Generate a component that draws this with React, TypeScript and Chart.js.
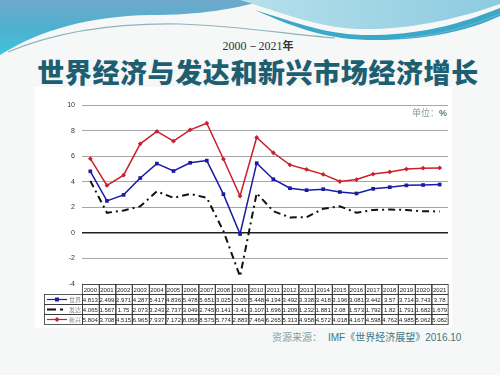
import React, { useEffect, useRef } from "react";
import { Chart, registerables } from "chart.js";

Chart.register(...registerables);

const years = ["2000", "2001", "2002", "2003", "2004", "2005", "2006", "2007", "2008", "2009", "2010", "2011", "2012", "2013", "2014", "2015", "2016", "2017", "2018", "2019", "2020", "2021"];
const world = [4.813, 2.499, 2.971, 4.287, 5.417, 4.836, 5.478, 5.651, 3.025, -0.09, 5.448, 4.194, 3.492, 3.338, 3.418, 3.196, 3.081, 3.442, 3.57, 3.714, 3.743, 3.78];
const advanced = [4.065, 1.567, 1.75, 2.073, 3.243, 2.737, 3.049, 2.745, 0.141, -3.41, 3.107, 1.696, 1.209, 1.232, 1.881, 2.08, 1.573, 1.792, 1.82, 1.791, 1.682, 1.679];
const emerging = [5.804, 3.708, 4.515, 6.965, 7.937, 7.172, 8.058, 8.575, 5.774, 2.883, 7.464, 6.265, 5.313, 4.958, 4.572, 4.018, 4.167, 4.598, 4.762, 4.985, 5.062, 5.082];
const seriesNames = ["世界", "发达", "新兴"];
const yMin = -4;
const yMax = 10;
const yStep = 2;

const BLUE = "#1a1aa6";
const BLACK = "#111111";
const RED = "#cc1f2c";
const DASH = [7, 4, 2, 4];

const tablePlugin = {
  id: "dataTable",
  afterDraw(chart: any) {
    const ctx = chart.ctx as CanvasRenderingContext2D;
    const area = chart.chartArea;
    const xs = chart.scales.x;
    const n = years.length;
    const colW = (area.right - area.left) / n;
    const top = Math.round(area.bottom) + 0.5;
    const rowH = 10;
    const legendLeft = area.left - 38;
    const rows = [world, advanced, emerging];
    const colors = [BLUE, BLACK, RED];
    ctx.save();
    ctx.strokeStyle = "#333";
    ctx.lineWidth = 0.8;
    ctx.font = "6px Arial, 'Liberation Sans', sans-serif";
    ctx.textAlign = "center";
    ctx.textBaseline = "middle";
    ctx.fillStyle = "#222";
    // header row
    for (let i = 0; i < n; i++) {
      const cx = xs.getPixelForValue(i);
      const l = Math.round(cx - colW / 2) + 0.5;
      ctx.strokeRect(l, top, colW, rowH);
      ctx.fillText(years[i], cx, top + rowH / 2 + 0.5);
    }
    // data rows
    rows.forEach((vals, r) => {
      const y = top + rowH * (r + 1);
      ctx.strokeStyle = "#333";
      ctx.lineWidth = 0.8;
      ctx.setLineDash([]);
      ctx.strokeRect(Math.round(legendLeft) + 0.5, y, area.left - legendLeft, rowH);
      for (let i = 0; i < n; i++) {
        const cx = xs.getPixelForValue(i);
        const l = Math.round(cx - colW / 2) + 0.5;
        ctx.strokeRect(l, y, colW, rowH);
        ctx.fillStyle = "#222";
        ctx.fillText(String(vals[i]), cx, y + rowH / 2 + 0.5);
      }
      // legend sample
      const ly = y + rowH / 2;
      ctx.strokeStyle = colors[r];
      ctx.lineWidth = r === 1 ? 2 : 1.2;
      ctx.setLineDash(r === 1 ? [9, 4, 3, 40] : []);
      ctx.beginPath();
      ctx.moveTo(legendLeft + 3, ly);
      ctx.lineTo(legendLeft + 23, ly);
      ctx.stroke();
      ctx.setLineDash([]);
      ctx.fillStyle = colors[r];
      if (r === 0) {
        ctx.fillRect(legendLeft + 11, ly - 2, 4, 4);
      } else if (r === 2) {
        ctx.beginPath();
        ctx.moveTo(legendLeft + 13, ly - 2.5);
        ctx.lineTo(legendLeft + 15.5, ly);
        ctx.lineTo(legendLeft + 13, ly + 2.5);
        ctx.lineTo(legendLeft + 10.5, ly);
        ctx.closePath();
        ctx.fill();
      }
      ctx.fillStyle = "#8a8a8a";
      ctx.font = "6px 'Noto Sans CJK SC', sans-serif";
      ctx.textAlign = "left";
      ctx.fillText(seriesNames[r], legendLeft + 25, ly + 0.5);
      ctx.font = "6px Arial, 'Liberation Sans', sans-serif";
      ctx.textAlign = "center";
    });
    ctx.restore();
  },
};

function ChartPanel() {
  const ref = useRef<HTMLCanvasElement | null>(null);
  useEffect(() => {
    if (!ref.current) return;
    const chart = new Chart(ref.current, {
      type: "line",
      data: {
        labels: years,
        datasets: [
          {
            label: seriesNames[0],
            data: world,
            borderColor: BLUE,
            backgroundColor: BLUE,
            borderWidth: 1.5,
            pointStyle: "rect",
            pointRadius: 2.6,
            pointBorderWidth: 0,
            tension: 0,
          },
          {
            label: seriesNames[1],
            data: advanced,
            borderColor: BLACK,
            backgroundColor: BLACK,
            borderWidth: 2,
            borderDash: DASH,
            pointRadius: 0,
            tension: 0,
          },
          {
            label: seriesNames[2],
            data: emerging,
            borderColor: RED,
            backgroundColor: RED,
            borderWidth: 1.5,
            pointStyle: "rectRot",
            pointRadius: 2.4,
            pointBorderWidth: 0,
            tension: 0,
          },
        ],
      },
      options: {
        responsive: false,
        animation: false,
        devicePixelRatio: 1,
        layout: { padding: { top: 18, right: 3, bottom: 44, left: 0 } },
        plugins: {
          legend: { display: false },
          tooltip: { enabled: false },
        },
        scales: {
          x: {
            type: "category",
            display: false,
            offset: true,
          },
          y: {
            min: yMin,
            max: yMax,
            ticks: {
              stepSize: yStep,
              padding: 7,
              color: "#333",
              font: { size: 7, family: "Arial, 'Liberation Sans', sans-serif" },
            },
            border: { display: false },
            grid: {
              drawTicks: false,
              color: (c: any) => (c.tick && c.tick.value === 0 ? "#222" : "#a6a6a6"),
              lineWidth: (c: any) => (c.tick && c.tick.value === 0 ? 1.5 : 1),
            },
            afterFit: (s: any) => {
              s.width = 47;
            },
          },
        },
      },
      plugins: [tablePlugin],
    });
    return () => chart.destroy();
  }, []);
  return <canvas ref={ref} width={417} height={241} style={{ position: "absolute", left: 0, top: 0, width: 417, height: 241 }} />;
}

export default function App() {
  return (
    <div style={{ position: "fixed", left: 0, top: 0, width: 500, height: 375, overflow: "hidden", background: "#f6f7f7" }}>
      <svg width={500} height={60} style={{ position: "absolute", left: 0, top: 0 }}>
        <defs>
          <linearGradient id="gl" x1="0" y1="0" x2="0" y2="1">
            <stop offset="0" stopColor="#6fa9cc" />
            <stop offset="0.5" stopColor="#4fb0cf" />
            <stop offset="1" stopColor="#3cc4da" />
          </linearGradient>
          <linearGradient id="gr" x1="0" y1="0" x2="1" y2="0">
            <stop offset="0" stopColor="#b7e0ea" />
            <stop offset="1" stopColor="#8ccbe0" />
          </linearGradient>
        </defs>
        <rect x={0} y={0} width={500} height={60} fill="#f6f7f7" />
        <path d="M0,0 H265 C235,9 200,15 150,15 C90,16 40,30 0,55 Z" fill="url(#gl)" />
        <path d="M240,0 H500 V4 C450,22 400,30 360,29 C320,28 285,14 240,0 Z" fill="url(#gr)" />
        <path d="M255,10 C300,24 330,36 375,35 C430,34 470,20 500,8 V16 C470,30 430,40 375,40 C330,40 300,30 255,10 Z" fill="#3aa8c8" />
        <path d="M500,14 C470,26 440,36 400,38" stroke="#6fb6cf" strokeWidth={1} fill="none" />
        <path d="M8,52 C60,30 120,23 180,24 C240,26 285,34 335,38" stroke="#8fb3bd" strokeWidth={1.2} fill="none" />
      </svg>
      <div style={{ position: "absolute", left: 0, width: 500, top: 37, textAlign: "center", paddingLeft: 16, boxSizing: "border-box", fontFamily: "'Liberation Serif', 'DejaVu Serif', serif", fontSize: 12, color: "#333", lineHeight: "16px" }}>
        2000－2021<span style={{ fontFamily: "'Noto Sans CJK SC', sans-serif", fontWeight: 700, fontSize: 11 }}>年</span>
      </div>
      <div style={{ position: "absolute", left: 0, width: 500, top: 55, textAlign: "center", paddingLeft: 16, boxSizing: "border-box", fontFamily: "'Noto Sans CJK SC', sans-serif", fontWeight: 900, fontSize: 27, letterSpacing: 0.6, color: "#1d5e70", lineHeight: "34px", whiteSpace: "nowrap" }}>
        世界经济与发达和新兴市场经济增长
      </div>
      <div style={{ position: "absolute", left: 35, top: 87, width: 417, height: 241, background: "#ffffff" }}>
        <ChartPanel />
        <div style={{ position: "absolute", right: 5, top: 19, fontFamily: "'Noto Sans CJK SC', serif", fontSize: 9, color: "#8a9898" }}>
          单位：<span style={{ fontFamily: "Arial, 'Liberation Sans', sans-serif", fontWeight: 700, color: "#5a7a80" }}>%</span>
        </div>
      </div>
      <div style={{ position: "absolute", left: 272, top: 330, whiteSpace: "nowrap", fontSize: 10, lineHeight: "14px", color: "#3c7686" }}>
        <span style={{ fontFamily: "'Noto Sans CJK SC', serif", color: "#7fa0a8" }}>资源来源：</span>
        <span style={{ fontFamily: "Arial, 'Liberation Sans', sans-serif", marginLeft: 6 }}>IMF</span>
        <span style={{ fontFamily: "'Noto Sans CJK SC', sans-serif" }}>《世界经济展望》</span>
        <span style={{ fontFamily: "Arial, 'Liberation Sans', sans-serif" }}>2016.10</span>
      </div>
    </div>
  );
}
